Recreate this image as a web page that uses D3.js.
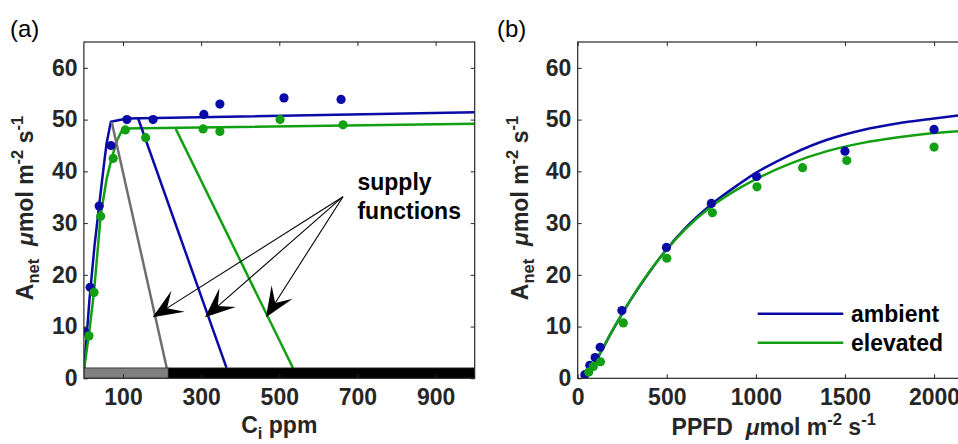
<!DOCTYPE html>
<html><head><meta charset="utf-8">
<script src="https://cdn.jsdelivr.net/npm/d3@7"></script>
<style>
html,body{margin:0;padding:0;background:#fff;}
svg{display:block;}
text{font-family:"Liberation Sans",Arial,Helvetica,sans-serif;white-space:pre;}
</style></head>
<body>
<svg id="chart" width="958" height="444"></svg>
<script>
// ---------- data ----------
const aTicks = [0, 10, 20, 30, 40, 50, 60];
const ciTicks = [100, 300, 500, 700, 900];
const ppfdTicks = [0, 500, 1000, 1500, 2000];

// panel (a): A/Ci points
const ciAmbPts = [2, 16, 39, 69, 110, 177, 307, 348, 512, 658];
const aAmbPts  = [9.0, 17.6, 33.3, 45.0, 50.0, 50.0, 51.0, 53.0, 54.2, 53.9];
const ciElevPts = [13, 26, 43, 75, 106, 158, 305, 348, 502, 663];
const aElevPts  = [8.2, 16.6, 31.3, 42.5, 48.0, 46.5, 48.2, 47.7, 50.0, 49.0];

// panel (a): fitted A/Ci lines
const ciAmbFit = [1, 14, 27, 39, 50, 58, 69, 110, 1000];
const aAmbFit  = [2, 15, 25.5, 33.4, 40.5, 45.4, 49.6, 50.2, 51.4];
const ciElevFit = [1, 13, 26, 43, 58, 71, 85, 100, 1000];
const aElevFit  = [2, 8.5, 16.8, 31.5, 38.5, 42.5, 46, 48.3, 49.2];

// panel (a): supply functions [start, end]
const supplyGrayCi = [71, 212],  supplyGrayA = [49.6, 2];
const supplyAmbCi  = [138, 365], supplyAmbA  = [50.4, 2];
const supplyElevCi = [235, 535], supplyElevA = [48.2, 2];

// panel (a): bottom bar
const barStart = [0, 216];
const barEnd   = [216, 1000];
const barTop = 2;

// panel (a): annotation
const arrowFromCi = 663, arrowFromA = 35.1;
const arrowTipCi = [176, 310, 466];
const arrowTipA  = [11.8, 11.8, 11.8];
const annotCi = 700, annotA = 36.3;
const annotLines = ["supply", "functions"];

// panel (b): light response points
const ppfdAmbPts = [40, 68, 98, 126, 248, 498, 750, 1004, 1500, 2000];
const aLAmbPts   = [0.7, 2.5, 4.0, 6.0, 13.1, 25.3, 33.8, 39.0, 43.9, 48.1];
const ppfdElevPts = [62, 88, 128, 256, 500, 756, 1006, 1262, 1510, 2000];
const aLElevPts   = [1.2, 2.3, 3.2, 10.7, 23.2, 32.0, 37.0, 40.7, 42.1, 44.7];

// panel (b): fitted curves
const ppfdFit = [42, 100, 200, 300, 400, 500, 600, 750, 900, 1000, 1200, 1400, 1600, 1800, 2000, 2200];
const aLAmbFit  = [0, 3.2, 9.5, 15.3, 20.4, 25.0, 28.9, 33.6, 37.4, 39.7, 43.3, 46.1, 48.0, 49.3, 50.2, 51.1];
const aLElevFit = [0, 3.3, 9.6, 15.4, 20.5, 24.9, 28.7, 33.2, 36.6, 38.5, 41.6, 43.9, 45.5, 46.6, 47.4, 47.9];

const seriesNames = ["ambient", "elevated"];

// ---------- style ----------
const BLUE = "#0a0aa6", GREEN = "#12a012", GRAYL = "#6e6e6e", AX = "#262626";
const FS = 23, SUB = 16.5, LW = 2.5, R = 4.6;

const svg = d3.select("#chart");
const yS = d3.scaleLinear([0, 65], [378.3, 42]);
const xA = d3.scaleLinear([0, 1000], [83.9, 474.7]);
const xB = d3.scaleLinear([0, 2200], [577.7, 969.7]);

svg.append("defs").append("clipPath").attr("id","clipA")
  .append("rect").attr("x",xA(0)).attr("y",yS(65)).attr("width",xA(1000)-xA(0)).attr("height",yS(0)-yS(65));
svg.select("defs").append("clipPath").attr("id","clipB")
  .append("rect").attr("x",xB(0)).attr("y",yS(65)).attr("width",xB(2200)-xB(0)).attr("height",yS(0)-yS(65));

function drawAxes(x, xt) {
  const g = svg.append("g");
  const y0 = yS.range()[0], y1 = yS.range()[1];
  const x0 = x.range()[0], x1 = x.range()[1];
  g.append("g").attr("transform", `translate(0,${y0})`)
    .call(d3.axisBottom(x).tickValues(xt).tickSize(-4).tickPadding(10.5).tickFormat(d3.format("d")));
  g.append("g").attr("transform", `translate(0,${y1})`)
    .call(d3.axisTop(x).tickValues(xt).tickSize(-4).tickFormat(""));
  g.append("g").attr("transform", `translate(${x0},0)`)
    .call(d3.axisLeft(yS).tickValues(aTicks).tickSize(-4).tickPadding(6.3).tickFormat(d3.format("d")));
  g.append("g").attr("transform", `translate(${x1},0)`)
    .call(d3.axisRight(yS).tickValues(aTicks).tickSize(-4).tickFormat(""));
  g.selectAll(".domain").remove();
  g.selectAll(".tick line").attr("stroke", AX).attr("stroke-width", 1);
  g.selectAll(".tick text").attr("fill", AX).attr("font-size", FS).attr("font-weight", "bold")
    .attr("font-family", '"Liberation Sans",Arial,sans-serif');
  g.append("rect").attr("x", x0).attr("y", y1).attr("width", x1 - x0).attr("height", y0 - y1)
    .attr("fill", "none").attr("stroke", AX).attr("stroke-width", 1.2);
  return g;
}

const line = (x) => d3.line().x(d => x(d[0])).y(d => yS(d[1]));
const zip = (a, b) => a.map((v, i) => [v, b[i]]);

// ---------- panel (a) ----------
const gA = svg.append("g").attr("clip-path", "url(#clipA)");
gA.append("path").datum(zip(ciAmbFit, aAmbFit)).attr("d", line(xA))
  .attr("fill","none").attr("stroke",BLUE).attr("stroke-width",LW).attr("stroke-linejoin","round");
gA.append("path").datum(zip(ciElevFit, aElevFit)).attr("d", line(xA))
  .attr("fill","none").attr("stroke",GREEN).attr("stroke-width",LW).attr("stroke-linejoin","round");
[[supplyGrayCi, supplyGrayA, GRAYL],[supplyAmbCi, supplyAmbA, BLUE],[supplyElevCi, supplyElevA, GREEN]]
  .forEach(([c, a, col]) => {
    gA.append("path").datum(zip(c, a)).attr("d", line(xA))
      .attr("fill","none").attr("stroke",col).attr("stroke-width",LW);
  });
gA.selectAll("circle.amb").data(zip(ciAmbPts, aAmbPts)).join("circle")
  .attr("cx", d => xA(d[0])).attr("cy", d => yS(d[1])).attr("r", R).attr("fill", BLUE);
gA.selectAll("circle.elev").data(zip(ciElevPts, aElevPts), (d,i)=>"e"+i).enter().append("circle")
  .attr("cx", d => xA(d[0])).attr("cy", d => yS(d[1])).attr("r", R).attr("fill", GREEN);

// bars
gA.selectAll("rect.bar").data(barStart.map((s, i) => [s, barEnd[i], i])).enter().append("rect")
  .attr("x", d => xA(d[0])).attr("width", d => xA(d[1]) - xA(d[0]))
  .attr("y", yS(barTop)).attr("height", yS(0) - yS(barTop))
  .attr("fill", d => d[2] === 0 ? "#808080" : "#000").attr("stroke", "#222").attr("stroke-width", 0.8);

// arrows
const fx = xA(arrowFromCi), fy = yS(arrowFromA);
arrowTipCi.forEach((c, i) => {
  const tx = xA(c), ty = yS(arrowTipA[i]);
  const dx = fx - tx, dy = fy - ty, L = Math.hypot(dx, dy);
  const ux = dx / L, uy = dy / L, px = -uy, py = ux;
  const headL = 30, headW = 12.5, notch = 17;
  const nx = tx + ux * notch, ny = ty + uy * notch;
  svg.append("line").attr("x1", fx).attr("y1", fy).attr("x2", nx).attr("y2", ny)
    .attr("stroke", "#000").attr("stroke-width", 1.1);
  const pts = [[tx, ty],
    [tx + ux * headL + px * headW, ty + uy * headL + py * headW],
    [nx, ny],
    [tx + ux * headL - px * headW, ty + uy * headL - py * headW]];
  svg.append("polygon").attr("points", pts.map(p => p.join(",")).join(" ")).attr("fill", "#000");
});
svg.append("text").attr("x", xA(annotCi)).attr("y", yS(annotA)).attr("font-size", FS)
  .attr("font-weight", "bold").attr("fill", "#000")
  .selectAll("tspan").data(annotLines).join("tspan")
  .attr("x", xA(annotCi)).attr("dy", (d, i) => i ? 28.3 : 0).text(d => d);

drawAxes(xA, ciTicks);

// ---------- panel (b) ----------
const gB = svg.append("g").attr("clip-path", "url(#clipB)");
gB.append("path").datum(zip(ppfdFit, aLAmbFit)).attr("d", line(xB).curve(d3.curveMonotoneX))
  .attr("fill","none").attr("stroke",BLUE).attr("stroke-width",LW);
gB.append("path").datum(zip(ppfdFit, aLElevFit)).attr("d", line(xB).curve(d3.curveMonotoneX))
  .attr("fill","none").attr("stroke",GREEN).attr("stroke-width",LW);
gB.selectAll("circle.a").data(zip(ppfdAmbPts, aLAmbPts)).enter().append("circle")
  .attr("cx", d => xB(d[0])).attr("cy", d => yS(d[1])).attr("r", R).attr("fill", BLUE);
gB.selectAll("circle.e").data(zip(ppfdElevPts, aLElevPts), (d,i)=>"e"+i).enter().append("circle")
  .attr("cx", d => xB(d[0])).attr("cy", d => yS(d[1])).attr("r", R).attr("fill", GREEN);

// legend
const leg = svg.append("g");
seriesNames.forEach((n, i) => {
  const y = 313.7 + i * 29;
  leg.append("line").attr("x1", 757.7).attr("x2", 843.3).attr("y1", y).attr("y2", y)
    .attr("stroke", i ? GREEN : BLUE).attr("stroke-width", LW);
  leg.append("text").attr("x", 851).attr("y", y + 8).attr("font-size", FS)
    .attr("font-weight", "bold").attr("fill", "#000").text(n);
});

drawAxes(xB, ppfdTicks);

// ---------- labels ----------
function yLabel(x, yc) {
  const t = svg.append("text").attr("transform", `translate(${x},${yc}) rotate(-90)`)
    .attr("text-anchor", "middle").attr("font-size", FS).attr("font-weight", "bold").attr("fill", AX);
  t.append("tspan").text("A");
  t.append("tspan").attr("font-size", SUB).attr("dy", 6).text("net");
  t.append("tspan").attr("dy", -6).text("  ");
  t.append("tspan").attr("font-style", "italic").text("μ");
  t.append("tspan").text("mol m");
  t.append("tspan").attr("font-size", SUB).attr("dy", -10).text("-2");
  t.append("tspan").attr("dy", 10).text(" s");
  t.append("tspan").attr("font-size", SUB).attr("dy", -10).text("-1");
}
yLabel(33, 208);
yLabel(527.5, 208);

const xl1 = svg.append("text").attr("x", xA(500)).attr("y", 433).attr("text-anchor", "middle")
  .attr("font-size", FS).attr("font-weight", "bold").attr("fill", AX);
xl1.append("tspan").text("C");
xl1.append("tspan").attr("font-size", SUB).attr("dy", 6).text("i");
xl1.append("tspan").attr("dy", -6).text(" ppm");

const xl2 = svg.append("text").attr("x", xB(1100)).attr("y", 435).attr("text-anchor", "middle")
  .attr("font-size", FS).attr("font-weight", "bold").attr("fill", AX);
xl2.append("tspan").text("PPFD  ");
xl2.append("tspan").attr("font-style", "italic").text("μ");
xl2.append("tspan").text("mol m");
xl2.append("tspan").attr("font-size", SUB).attr("dy", -10).text("-2");
xl2.append("tspan").attr("dy", 10).text(" s");
xl2.append("tspan").attr("font-size", SUB).attr("dy", -10).text("-1");

svg.append("text").attr("x", 10).attr("y", 37).attr("font-size", 24).attr("fill", "#000").text("(a)");
svg.append("text").attr("x", 497).attr("y", 37).attr("font-size", 24).attr("fill", "#000").text("(b)");
</script>
</body></html>
